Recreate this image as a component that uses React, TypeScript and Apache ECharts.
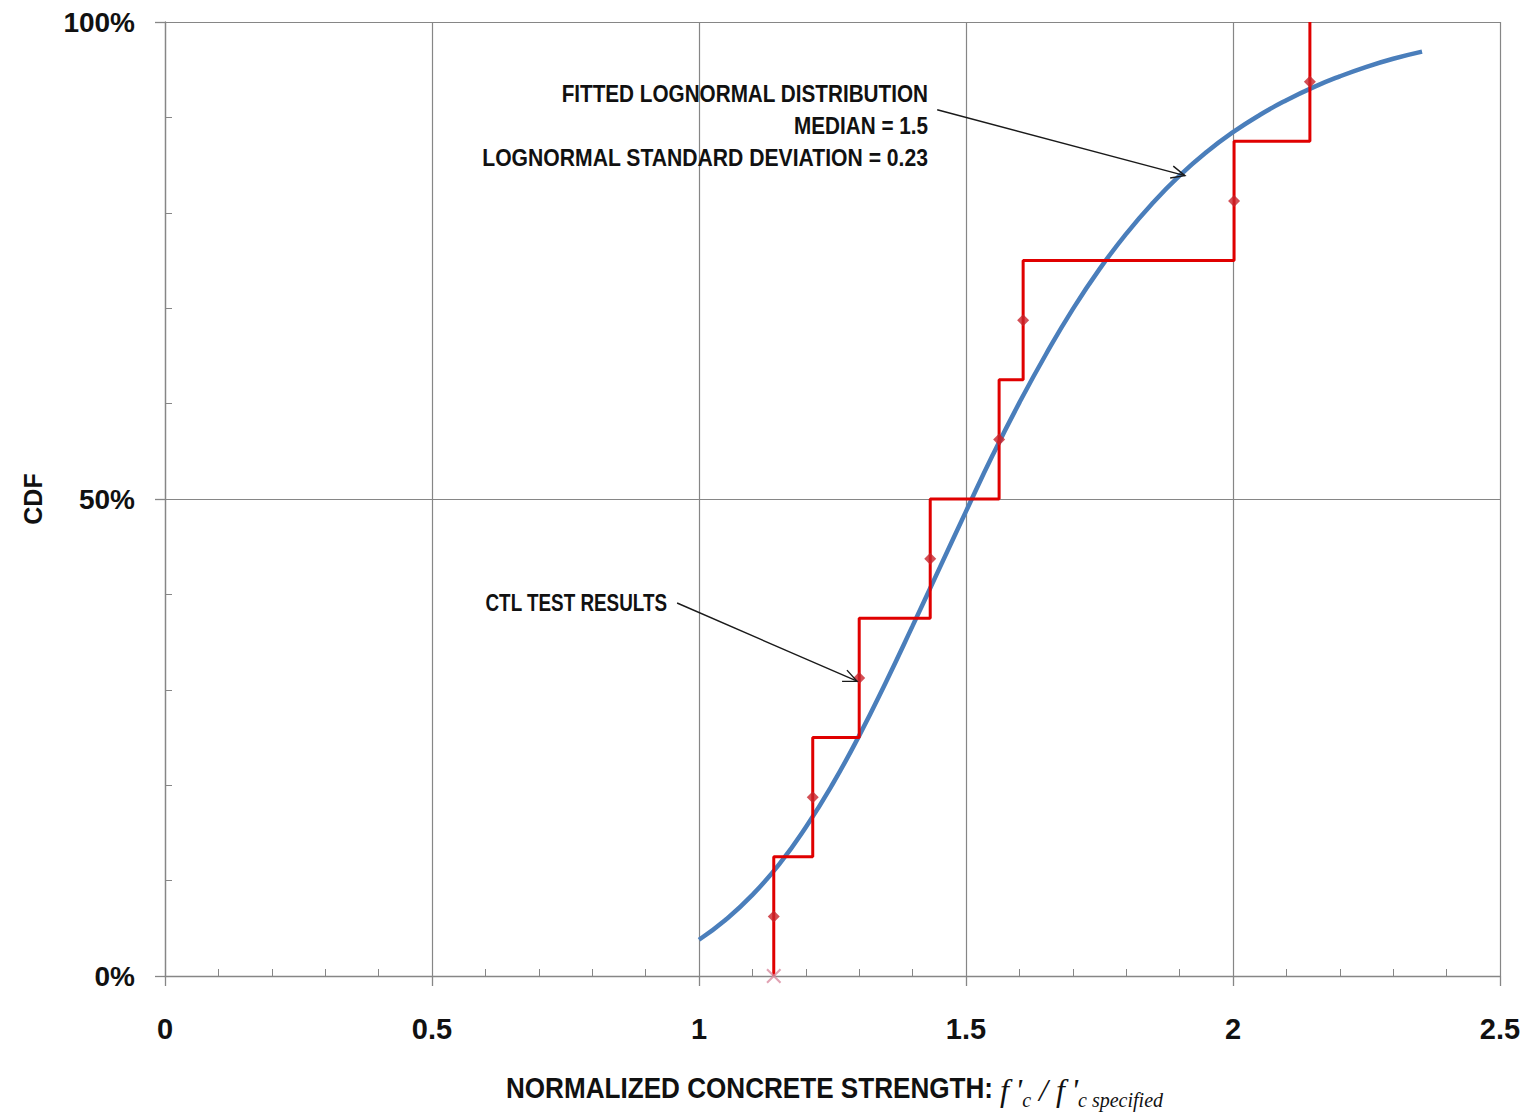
import React, { useEffect, useRef } from "react";
import * as echarts from "echarts";

// ---------- data ----------
const xTicks = [0, 0.5, 1, 1.5, 2, 2.5];
const yTickLabels = ["0%", "50%", "100%"];

// fitted lognormal curve
const curveX = [1.0, 1.05, 1.1, 1.15, 1.2, 1.25, 1.3, 1.35, 1.4, 1.45, 1.5, 1.55, 1.6, 1.65, 1.7, 1.75, 1.8, 1.85, 1.9, 1.95, 2.0, 2.05, 2.1, 2.15, 2.2, 2.25, 2.3, 2.354];
const curveCdf = [3.8, 5.9, 8.5, 11.7, 15.6, 20.1, 25.2, 30.8, 36.7, 42.7, 48.7, 54.6, 60.1, 65.2, 69.9, 74.1, 77.8, 81.05, 83.9, 86.35, 88.45, 90.25, 91.8, 93.15, 94.3, 95.3, 96.15, 96.9];

// CTL test results (empirical CDF)
const testX = [1.14, 1.213, 1.3, 1.433, 1.562, 1.607, 2.002, 2.144];
const stepLow = [0, 12.5, 25, 37.5, 50, 62.5, 75, 87.5];
const stepHigh = [12.5, 25, 37.5, 50, 62.5, 75, 87.5, 100];
const markerCdf = [6.25, 18.75, 31.25, 43.75, 56.25, 68.75, 81.25, 93.75];
const crossX = [1.14];
const crossCdf = [0];

// annotation arrows [x0, y0, x1, y1] in data units
const arrowFitted = [1.446, 90.8, 1.91, 83.9];
const arrowTest = [0.959, 39.1, 1.296, 30.9];

const SANS = "'Liberation Sans', Arial, sans-serif";
const SERIF = "'Liberation Serif', 'DejaVu Serif', serif";
const AXIS_GRAY = "#868686";

export default function App() {
  const ref = useRef<HTMLDivElement>(null);

  useEffect(() => {
    document.body.style.margin = "0";
    document.body.style.overflow = "hidden";
    const chart = echarts.init(ref.current!, null, { renderer: "svg" });

    const stepData: number[][] = [];
    testX.forEach((x, i) => {
      stepData.push([x, stepLow[i]]);
      stepData.push([x, stepHigh[i]]);
    });

    const option: any = {
      animation: false,
      backgroundColor: "#ffffff",
      grid: { left: 165, right: 38, top: 22, bottom: 140, containLabel: false },
      xAxis: {
        type: "value",
        min: xTicks[0],
        max: xTicks[xTicks.length - 1],
        interval: 0.5,
        axisLine: { show: true, onZero: false, lineStyle: { color: AXIS_GRAY, width: 1.3 } },
        axisTick: { show: true, length: 10, lineStyle: { color: AXIS_GRAY, width: 1.3 } },
        minorTick: { show: true, splitNumber: 5, length: -7, lineStyle: { color: AXIS_GRAY, width: 1 } },
        splitLine: { show: true, lineStyle: { color: AXIS_GRAY, width: 1.2 } },
        axisLabel: {
          margin: 38,
          fontFamily: SANS,
          fontWeight: "bold",
          fontSize: 29,
          color: "#111",
          formatter: (v: number) => String(v),
        },
      },
      yAxis: {
        type: "value",
        min: 0,
        max: 100,
        interval: 50,
        name: "CDF",
        nameLocation: "middle",
        nameRotate: 90,
        nameGap: 120,
        nameTextStyle: { fontFamily: SANS, fontWeight: "bold", fontSize: 25, color: "#111" },
        axisLine: { show: true, lineStyle: { color: AXIS_GRAY, width: 1.3 } },
        axisTick: { show: true, length: 10, lineStyle: { color: AXIS_GRAY, width: 1.3 } },
        minorTick: { show: true, splitNumber: 5, length: -7, lineStyle: { color: AXIS_GRAY, width: 1 } },
        splitLine: { show: true, lineStyle: { color: AXIS_GRAY, width: 1.2 } },
        axisLabel: {
          margin: 30,
          fontFamily: SANS,
          fontWeight: "bold",
          fontSize: 28,
          color: "#111",
          formatter: (v: number) => yTickLabels[Math.round(v / 50)] ?? "",
        },
      },
      series: [
        {
          name: "Fitted lognormal",
          type: "line",
          data: curveX.map((x, i) => [x, curveCdf[i]]),
          smooth: true,
          showSymbol: false,
          lineStyle: { color: "#4a7ebb", width: 4.5 },
          z: 2,
        },
        {
          name: "CTL test results",
          type: "line",
          data: stepData,
          showSymbol: false,
          lineStyle: { color: "#e00000", width: 3 },
          z: 3,
        },
        {
          name: "Test points",
          type: "scatter",
          data: testX.map((x, i) => [x, markerCdf[i]]),
          symbol: "diamond",
          symbolSize: 12,
          itemStyle: { color: "#c8232b" },
          z: 4,
        },
        {
          name: "Zero point",
          type: "scatter",
          data: crossX.map((x, i) => [x, crossCdf[i]]),
          symbol:
            "path://M0,1 L1,0 L5,4 L9,0 L10,1 L6,5 L10,9 L9,10 L5,6 L1,10 L0,9 L4,5 Z",
          symbolSize: 15,
          itemStyle: { color: "#d98ca0" },
          z: 4,
        },
      ],
    };
    chart.setOption(option);

    const arrowGraphic = (a: number[]) => {
      const p0 = chart.convertToPixel({ gridIndex: 0 }, [a[0], a[1]]) as number[];
      const p1 = chart.convertToPixel({ gridIndex: 0 }, [a[2], a[3]]) as number[];
      const ang = Math.atan2(p1[1] - p0[1], p1[0] - p0[0]);
      const len = 15;
      const spread = 0.42;
      const h1 = [p1[0] - len * Math.cos(ang - spread), p1[1] - len * Math.sin(ang - spread)];
      const h2 = [p1[0] - len * Math.cos(ang + spread), p1[1] - len * Math.sin(ang + spread)];
      const style = { stroke: "#1a1a1a", lineWidth: 1.4, fill: null };
      return [
        { type: "line", shape: { x1: p0[0], y1: p0[1], x2: p1[0], y2: p1[1] }, style, z: 10 },
        { type: "polyline", shape: { points: [h1, p1, h2] }, style, z: 10 },
      ];
    };

    const note = (t: string, x: number, y: number, sx: number) => ({
      type: "text",
      x,
      y,
      scaleX: sx,
      z: 10,
      style: {
        text: t,
        fontFamily: SANS,
        fontWeight: "bold",
        fontSize: 23,
        fill: "#111",
        textAlign: "right",
        textVerticalAlign: "middle",
      },
    });

    chart.setOption({
      graphic: [
        ...arrowGraphic(arrowFitted),
        ...arrowGraphic(arrowTest),
        note("FITTED LOGNORMAL DISTRIBUTION", 928, 94, 0.9),
        note("MEDIAN = 1.5", 928, 126, 0.9),
        note("LOGNORMAL STANDARD DEVIATION = 0.23", 928, 158, 0.92),
        note("CTL TEST RESULTS", 667, 603, 0.82),
        {
          type: "text",
          x: 993,
          y: 1088,
          scaleX: 0.9,
          z: 10,
          style: {
            text: "NORMALIZED CONCRETE STRENGTH:",
            fontFamily: SANS,
            fontWeight: "bold",
            fontSize: 29,
            fill: "#111",
            textAlign: "right",
            textVerticalAlign: "middle",
          },
        },
        {
          type: "text",
          x: 1000,
          y: 1090,
          z: 10,
          style: {
            text: "{f|f\u2009'}{s|c}{f| / f\u2009'}{s|c specified}",
            textAlign: "left",
            textVerticalAlign: "middle",
            rich: {
              f: { fontFamily: SERIF, fontStyle: "italic", fontSize: 32, fill: "#111", lineHeight: 40 },
              s: { fontFamily: SERIF, fontStyle: "italic", fontSize: 20, fill: "#111", lineHeight: 40, verticalAlign: "bottom", padding: [14, 0, 0, 0] },
            },
          },
        },
      ],
    });

    return () => chart.dispose();
  }, []);

  return <div ref={ref} style={{ width: 1538, height: 1116 }} />;
}
